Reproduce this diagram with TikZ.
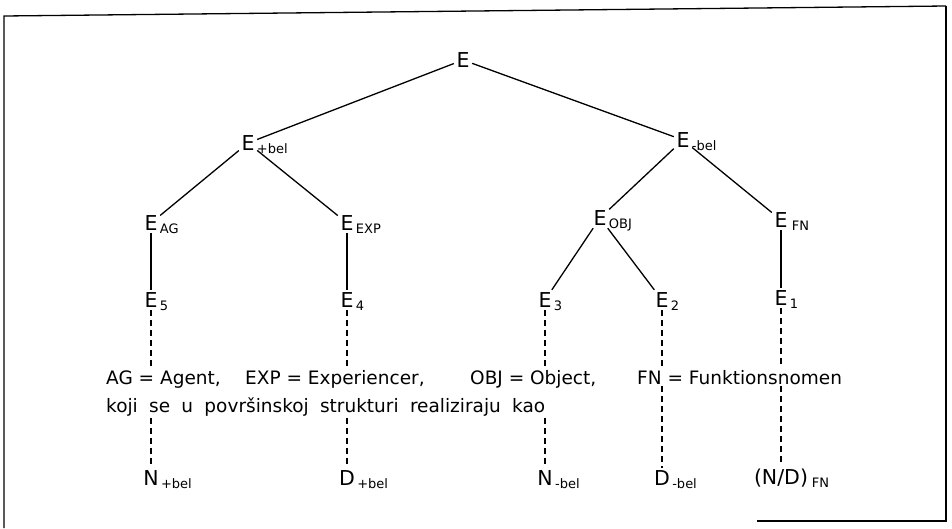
\documentclass[tikz,border=0pt]{standalone}
\usepackage{fontspec}
\setmainfont{DejaVu Sans}
\begin{document}
\begin{tikzpicture}[x=1pt,y=-1pt,
  edge/.style={line width=1.3pt},
  dashedge/.style={line width=1.3pt, dash pattern=on 6pt off 4pt},
  frameline/.style={line width=1.3pt},
  letter/.style={inner sep=2.5pt, font=\fontsize{20.5}{20.5}\selectfont},
  subtext/.style={inner sep=0pt, font=\fontsize{13}{13}\selectfont, anchor=base west},
  gloss/.style={inner sep=2pt, font=\fontsize{18.5}{18.5}\selectfont, anchor=base west}]

\useasboundingbox (0,0) rectangle (952,528);

% frame
\draw[frameline] (946,6) -- (4,16) -- (4,528);
\draw[frameline] (946,6) -- (946,521) -- (757,521);

% tree nodes: the letter, then its subscript
\node[letter] (e) at (463,60) {E};

\node[letter] (ep) at (248,143) {E};
\node[subtext] at ([xshift=-0.5pt,yshift=-3pt]ep.base east) {+bel};
\node[letter] (em) at (683,140) {E};
\node[subtext] at ([xshift=-0.5pt,yshift=-3pt]em.base east) {-bel};

\node[letter] (eag) at (151,223) {E};
\node[subtext] at ([xshift=-0.5pt,yshift=-3pt]eag.base east) {AG};
\node[letter] (eexp) at (347,223) {E};
\node[subtext] at ([xshift=-0.5pt,yshift=-3pt]eexp.base east) {EXP};
\node[letter] (eobj) at (600,218) {E};
\node[subtext] at ([xshift=-0.5pt,yshift=-3pt]eobj.base east) {OBJ};
\node[letter] (efn) at (781,220) {E};
\node[subtext] at ([xshift=1.5pt,yshift=-3pt]efn.base east) {FN};

\node[letter] (e5) at (151,300) {E};
\node[subtext] at ([xshift=-0.5pt,yshift=-3pt]e5.base east) {5};
\node[letter] (e4) at (347,300) {E};
\node[subtext] at ([xshift=-0.5pt,yshift=-3pt]e4.base east) {4};
\node[letter] (e3) at (545,300) {E};
\node[subtext] at ([xshift=-0.5pt,yshift=-3pt]e3.base east) {3};
\node[letter] (e2) at (662,300) {E};
\node[subtext] at ([xshift=-0.5pt,yshift=-3pt]e2.base east) {2};
\node[letter] (e1) at (781,298) {E};
\node[subtext] at ([xshift=-0.5pt,yshift=-3pt]e1.base east) {1};

% glosses
\node[gloss] (ag)  at (104,384) {AG = Agent,};
\node[gloss] (exp) at (243,384) {EXP = Experiencer,};
\node[gloss] (obj) at (468,384) {OBJ = Object,};
\node[gloss] (fn)  at (635,384) {FN = Funktionsnomen};
\node[gloss] (real) at (104,412) {\makebox[439pt][s]{koji se u površinskoj strukturi realiziraju kao}};

% surface categories
\node[letter] (n1) at (151,478) {N};
\node[subtext] at ([xshift=-0.5pt,yshift=-3pt]n1.base east) {+bel};
\node[letter] (d1) at (347,478) {D};
\node[subtext] at ([xshift=-0.5pt,yshift=-3pt]d1.base east) {+bel};
\node[letter] (n2) at (545,478) {N};
\node[subtext] at ([xshift=-0.5pt,yshift=-3pt]n2.base east) {-bel};
\node[letter] (d2) at (662,478) {D};
\node[subtext] at ([xshift=-0.5pt,yshift=-3pt]d2.base east) {-bel};
\node[letter] (nd) at (781,478) {(N/D)};
\node[subtext] at ([xshift=1pt,yshift=-3pt]nd.base east) {FN};

% solid branches
\draw[edge] (e) -- (ep);
\draw[edge] (e) -- (em);
\draw[edge] (ep) -- (eag);
\draw[edge] (ep) -- (eexp);
\draw[edge] (em) -- (eobj);
\draw[edge] (em) -- (efn);
\draw[edge] (eag) -- (e5);
\draw[edge] (eexp) -- (e4);
\draw[edge] (eobj) -- (e3);
\draw[edge] (eobj) -- (e2);
\draw[edge] (efn) -- (e1);

% dashed links through the glosses
\draw[dashedge] (e5) -- (e5 |- ag.north);
\draw[dashedge] (e5 |- real.south) -- (n1);
\draw[dashedge] (e4) -- (e4 |- exp.north);
\draw[dashedge] (e4 |- real.south) -- (d1);
\draw[dashedge] (e3) -- (e3 |- obj.north);
\draw[dashedge] (e3 |- real.south) -- (n2);
\draw[dashedge] (e2) -- (e2 |- fn.north);
\draw[dashedge] (e2 |- fn.south) -- (d2);
\draw[dashedge] (e1) -- (e1 |- fn.north);
\draw[dashedge] (e1 |- fn.south) -- (nd);
\end{tikzpicture}
\end{document}
